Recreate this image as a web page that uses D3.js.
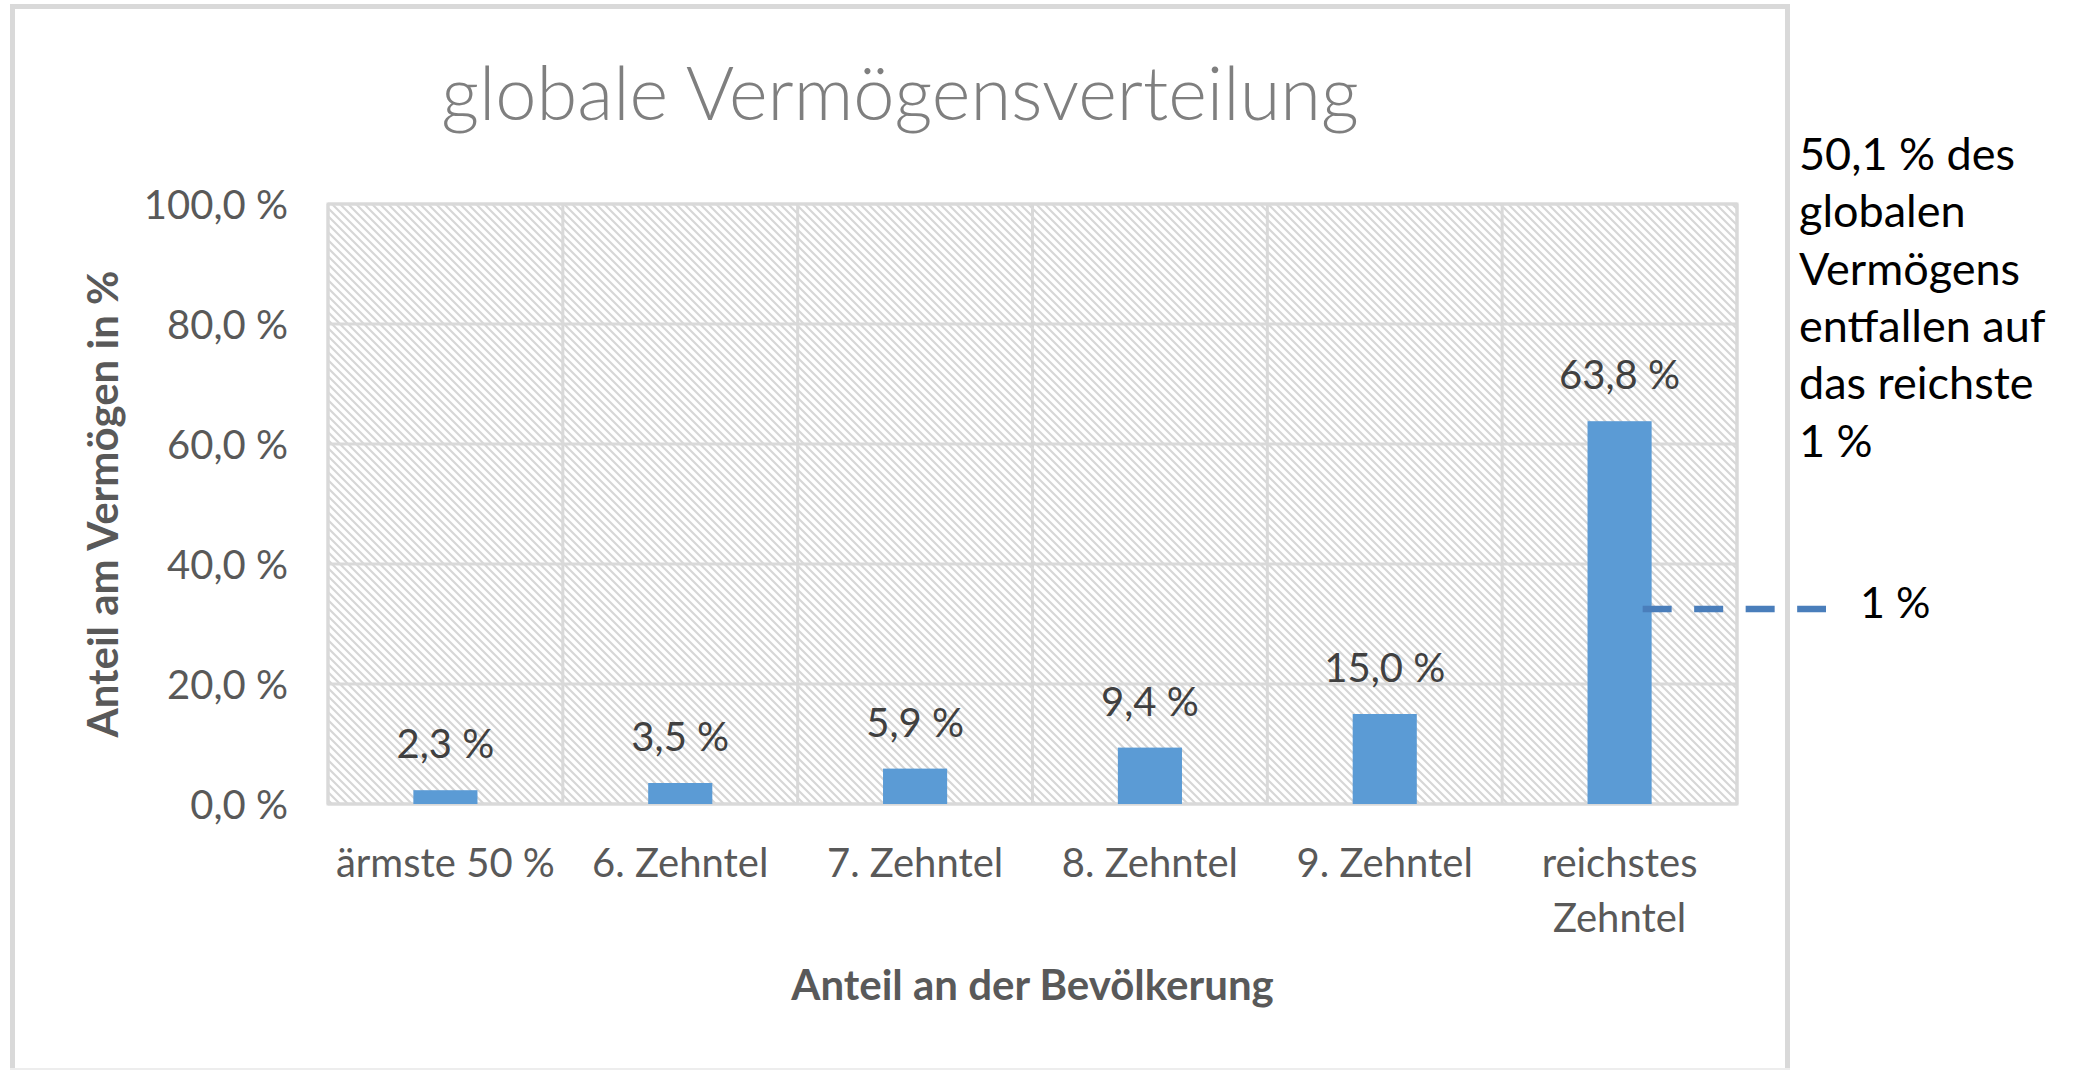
<!DOCTYPE html>
<html>
<head>
<meta charset="utf-8">
<script src="https://cdn.jsdelivr.net/npm/d3@7"></script>
<style>
  html, body { margin: 0; padding: 0; background: #ffffff; }
  svg { display: block; }
  text { font-family: Lato, "Open Sans", sans-serif; }
</style>
</head>
<body>
<svg id="chart" width="2090" height="1071"></svg>
<script>
// ---- data ----
const categories = ["ärmste 50 %", "6. Zehntel", "7. Zehntel", "8. Zehntel", "9. Zehntel", "reichstes Zehntel"];
const shares = [2.3, 3.5, 5.9, 9.4, 15.0, 63.8];
const yTickValues = [0, 20, 40, 60, 80, 100];
const chartTitle = "globale Vermögensverteilung";
const xAxisTitle = "Anteil an der Bevölkerung";
const yAxisTitle = "Anteil am Vermögen in %";
const noteLines = ["50,1 % des", "globalen", "Vermögens", "entfallen auf", "das reichste", "1 %"];
const topOnePercentLevel = [32.5];
const topOnePercentLabel = ["1 %"];

// ---- setup ----
const de = d3.formatLocale({decimal: ",", thousands: ".", grouping: [3], currency: ["", " €"]});
const fmt1 = de.format(".1f");
const pct = v => fmt1(v) + " %";

const svg = d3.select("#chart");
const frame = {x0: 10, y0: 4, x1: 1790, y1: 1069};
const plot = {left: 328, right: 1737, top: 204, bottom: 804};

const x = d3.scaleBand().domain(categories).range([plot.left, plot.right])
  .paddingInner(0.727).paddingOuter(0.3635);
const y = d3.scaleLinear().domain([0, 100]).range([plot.bottom, plot.top]);

// chart frame (top, left, right strong; bottom faint)
svg.append("path")
  .attr("d", `M${frame.x0 + 2.5},${frame.y1} V${frame.y0 + 2.5} H${frame.x1 - 2.5} V${frame.y1}`)
  .attr("fill", "none").attr("stroke", "#d9d9d9").attr("stroke-width", 5);
svg.append("line")
  .attr("x1", frame.x0).attr("x2", frame.x1).attr("y1", frame.y1).attr("y2", frame.y1)
  .attr("stroke", "#ededed").attr("stroke-width", 2);

// hatch pattern
const defs = svg.append("defs");
const pat = defs.append("pattern").attr("id", "hatch")
  .attr("patternUnits", "userSpaceOnUse").attr("width", 8).attr("height", 8);
pat.append("rect").attr("width", 8).attr("height", 8).attr("fill", "#ffffff");
pat.append("path").attr("d", "M-2,-2 L10,10 M-2,6 L2,10 M6,-2 L10,2")
  .attr("stroke", "#d6d6d6").attr("stroke-width", 2.1).attr("fill", "none");

svg.append("rect")
  .attr("x", plot.left).attr("y", plot.top)
  .attr("width", plot.right - plot.left).attr("height", plot.bottom - plot.top)
  .attr("fill", "url(#hatch)");

// horizontal gridlines
svg.append("g").selectAll("line").data(yTickValues).join("line")
  .attr("x1", plot.left).attr("x2", plot.right)
  .attr("y1", d => y(d)).attr("y2", d => y(d))
  .attr("stroke", "#d9d9d9").attr("stroke-width", 3);

// vertical gridlines at category boundaries
const bounds = categories.map(c => x(c) - x.step() * x.paddingOuter()).concat([plot.right]);
svg.append("g").selectAll("line").data(bounds).join("line")
  .attr("x1", d => d).attr("x2", d => d)
  .attr("y1", plot.top).attr("y2", plot.bottom)
  .attr("stroke", "#d9d9d9").attr("stroke-width", 3);

// plot border
svg.append("rect")
  .attr("x", plot.left).attr("y", plot.top)
  .attr("width", plot.right - plot.left).attr("height", plot.bottom - plot.top)
  .attr("fill", "none").attr("stroke", "#d9d9d9").attr("stroke-width", 3);

// bars
svg.append("g").selectAll("rect").data(categories).join("rect")
  .attr("x", d => x(d)).attr("width", x.bandwidth())
  .attr("y", (d, i) => y(shares[i]))
  .attr("height", (d, i) => y(0) - y(shares[i]))
  .attr("fill", "#5b9bd5");

// data labels
svg.append("g").selectAll("text").data(categories).join("text")
  .attr("x", d => x(d) + x.bandwidth() / 2)
  .attr("y", (d, i) => y(shares[i]) - 32)
  .attr("text-anchor", "middle")
  .attr("font-size", 40).attr("fill", "#404040")
  .text((d, i) => pct(shares[i]));

// y axis (tick labels only)
const yAxis = d3.axisLeft(y).tickValues(yTickValues).tickFormat(pct).tickSize(0).tickPadding(0);
const gy = svg.append("g").attr("transform", `translate(288,0)`).call(yAxis);
gy.select(".domain").remove();
gy.selectAll("text").attr("font-size", 40).attr("fill", "#595959")
  .attr("font-family", "Lato, sans-serif").attr("dy", "0.35em");

// x axis (tick labels only, wrapped)
const xAxis = d3.axisBottom(x).tickSize(0).tickPadding(0);
const gx = svg.append("g").attr("transform", `translate(0,${plot.bottom})`).call(xAxis);
gx.select(".domain").remove();
gx.selectAll("text").attr("font-size", 40).attr("fill", "#595959")
  .attr("font-family", "Lato, sans-serif").attr("y", 73).attr("dy", 0)
  .each(function(d) {
    const t = d3.select(this);
    if (this.getComputedTextLength() > x.step()) {
      const words = d.split(" ");
      t.text(null);
      words.forEach((w, i) => {
        t.append("tspan").attr("x", 0).attr("dy", i === 0 ? 0 : 55).text(w);
      });
    }
  });

// title
svg.append("text")
  .attr("x", (frame.x0 + frame.x1) / 2).attr("y", 120)
  .attr("text-anchor", "middle").attr("font-size", 74).attr("font-weight", 300)
  .attr("fill", "#7f7f7f")
  .text(chartTitle);

// axis titles
svg.append("text")
  .attr("x", (plot.left + plot.right) / 2).attr("y", 1000)
  .attr("text-anchor", "middle").attr("font-size", 42).attr("font-weight", "bold")
  .attr("fill", "#595959").text(xAxisTitle);

svg.append("text")
  .attr("transform", `translate(118,${(plot.top + plot.bottom) / 2}) rotate(-90)`)
  .attr("text-anchor", "middle").attr("font-size", 42).attr("font-weight", "bold")
  .attr("fill", "#595959").text(yAxisTitle);

// annotation: dashed line marking the top 1 %
const lastCat = categories[categories.length - 1];
svg.append("g").selectAll("line").data(topOnePercentLevel).join("line")
  .attr("x1", x(lastCat) + x.bandwidth() * 0.86)
  .attr("x2", frame.x1 + 36)
  .attr("y1", d => y(d)).attr("y2", d => y(d))
  .attr("stroke", "#4a7ebb").attr("stroke-width", 6.5)
  .attr("stroke-dasharray", "29 22.5");

svg.append("g").selectAll("text").data(topOnePercentLevel).join("text")
  .attr("x", frame.x1 + 70).attr("y", d => y(d) + 9)
  .attr("font-size", 43).attr("fill", "#000000")
  .text((d, i) => topOnePercentLabel[i]);

// annotation text block
svg.append("g").selectAll("text").data(noteLines).join("text")
  .attr("x", 1799).attr("y", (d, i) => 170 + i * 57.3)
  .attr("font-size", 45).attr("fill", "#000000")
  .text(d => d);
</script>
</body>
</html>
